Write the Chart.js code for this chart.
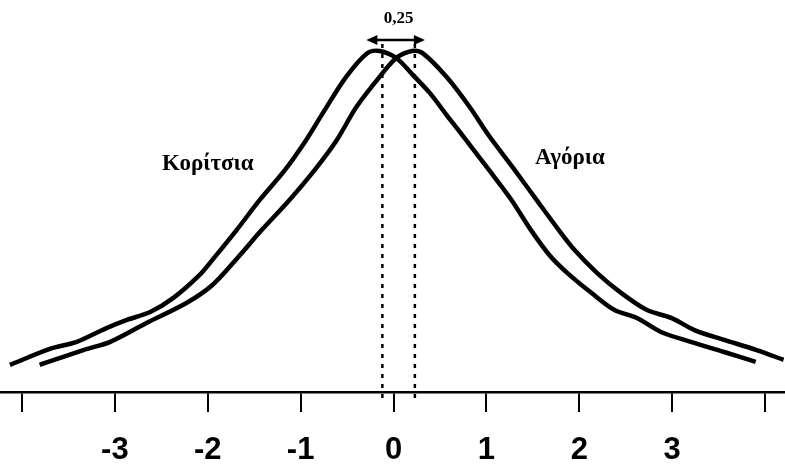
<!DOCTYPE html>
<html lang="el">
<head>
  <meta charset="UTF-8">
  <title>Κορίτσια - Αγόρια</title>
  <script src="https://cdn.jsdelivr.net/npm/chart.js"></script>
  <style>
    body {
      margin: 0;
      background: #fff;
    }
    #wrap {
      width: 785px;
      height: 471px;
    }
  </style>
</head>
<body>
  <div id="wrap"><canvas id="chart"></canvas></div>

  <script>
    // curves (x in SD units, y = relative height)
    const girlsX = [-4.13, -3.70, -3.41, -3.09, -2.87, -2.62, -2.37, -2.09, -1.95, -1.69, -1.44, -1.17, -0.94, -0.76, -0.51, -0.28, -0.15, 0.03, 0.20, 0.39, 0.58, 0.78, 1.03, 1.27, 1.48, 1.68, 1.87, 2.13, 2.38, 2.62, 2.88, 3.20, 3.56, 3.90];
    const girlsY = [6.9, 11.0, 12.8, 16.3, 18.4, 20.4, 24.0, 29.8, 33.7, 41.3, 49.0, 56.6, 64.3, 71.2, 80.4, 86.5, 87.0, 85.2, 81.1, 76.3, 70.4, 64.3, 56.6, 49.0, 41.3, 34.9, 30.4, 25.3, 20.9, 18.9, 15.3, 12.8, 10.2, 7.7];

    const boysX = [-3.81, -3.34, -3.05, -2.66, -2.23, -1.95, -1.68, -1.42, -1.12, -0.85, -0.61, -0.40, -0.15, 0.03, 0.20, 0.31, 0.57, 0.82, 1.03, 1.29, 1.54, 1.78, 1.95, 2.19, 2.45, 2.73, 2.99, 3.24, 3.56, 3.91, 4.20];
    const boysY = [6.9, 10.7, 12.8, 17.6, 22.7, 27.3, 34.2, 41.3, 49.0, 56.6, 64.3, 72.7, 80.4, 85.2, 87.0, 86.5, 80.4, 72.7, 65.3, 57.1, 49.0, 41.3, 36.2, 30.4, 25.3, 20.9, 18.9, 15.8, 13.3, 10.7, 8.2];

    const tickValues = [-4, -3, -2, -1, 0, 1, 2, 3, 4];
    const tickLabels = ["", "-3", "-2", "-1", "0", "1", "2", "3", ""];

    const peakGirls = -0.12;
    const peakBoys = 0.23;
    const diffLabel = "0,25";

    const curveNames = ["Κορίτσια", "Αγόρια"];
    const namePosX = [-2.0, 1.9];
    const namePosY = [58.5, 60];

    const toPoints = (xs, ys) => xs.map((x, i) => ({ x: x, y: ys[i] }));

    // dotted peak lines, arrow, and text labels
    const annotations = {
      id: "annotations",
      afterDatasetsDraw(chart) {
        const ctx = chart.ctx;
        const xs = chart.scales.x;
        const ys = chart.scales.y;
        const x1 = xs.getPixelForValue(peakGirls);
        const x2 = xs.getPixelForValue(peakBoys);
        const top = 40;
        const bottom = ys.bottom + 12;

        ctx.save();
        ctx.strokeStyle = "#000";
        ctx.fillStyle = "#000";

        // dotted verticals
        ctx.lineWidth = 2.5;
        ctx.setLineDash([4, 6]);
        [x1, x2].forEach((x) => {
          ctx.beginPath();
          ctx.moveTo(x, top + 4);
          ctx.lineTo(x, bottom);
          ctx.stroke();
        });
        ctx.setLineDash([]);

        // double arrow
        const ax1 = x1 - 16;
        const ax2 = x2 + 10;
        ctx.lineWidth = 2.5;
        ctx.beginPath();
        ctx.moveTo(ax1 + 6, top);
        ctx.lineTo(ax2 - 6, top);
        ctx.stroke();
        ctx.beginPath();
        ctx.moveTo(ax1, top);
        ctx.lineTo(ax1 + 11, top - 5);
        ctx.lineTo(ax1 + 11, top + 5);
        ctx.closePath();
        ctx.fill();
        ctx.beginPath();
        ctx.moveTo(ax2, top);
        ctx.lineTo(ax2 - 11, top - 5);
        ctx.lineTo(ax2 - 11, top + 5);
        ctx.closePath();
        ctx.fill();

        ctx.textAlign = "center";
        ctx.textBaseline = "alphabetic";
        ctx.font = "bold 17px 'Liberation Serif', serif";
        ctx.fillText(diffLabel, (x1 + x2) / 2, 23);

        ctx.font = "bold 23px 'Liberation Serif', serif";
        curveNames.forEach((name, i) => {
          ctx.fillText(name, xs.getPixelForValue(namePosX[i]), ys.getPixelForValue(namePosY[i]) + 7);
        });
        ctx.restore();
      },
    };

    new Chart(document.getElementById("chart"), {
      type: "line",
      data: {
        datasets: [
          {
            label: curveNames[0],
            data: toPoints(girlsX, girlsY),
            borderColor: "#000",
            borderWidth: 4.5,
            pointRadius: 0,
            tension: 0.3,
            fill: false,
          },
          {
            label: curveNames[1],
            data: toPoints(boysX, boysY),
            borderColor: "#000",
            borderWidth: 4.5,
            pointRadius: 0,
            tension: 0.3,
            fill: false,
          },
        ],
      },
      options: {
        responsive: true,
        maintainAspectRatio: false,
        animation: false,
        layout: { padding: 0 },
        plugins: {
          legend: { display: false },
          tooltip: { enabled: false },
        },
        scales: {
          x: {
            type: "linear",
            min: -4.237,
            max: 4.204,
            afterFit(scale) {
              scale.height = 79;
            },
            afterBuildTicks(scale) {
              scale.ticks = tickValues.map((v) => ({ value: v }));
            },
            border: { display: true, color: "#000", width: 2.5 },
            grid: {
              drawOnChartArea: false,
              drawTicks: true,
              tickLength: 20,
              color: "#000",
              lineWidth: 2,
            },
            ticks: {
              padding: 20,
              color: "#000",
              autoSkip: false,
              maxRotation: 0,
              font: { family: "'Liberation Sans', Arial, sans-serif", size: 31, weight: "bold" },
              callback: (value) => tickLabels[tickValues.indexOf(value)],
            },
          },
          y: {
            display: false,
            min: 0,
            max: 100,
          },
        },
      },
      plugins: [annotations],
    });
  </script>
</body>
</html>
